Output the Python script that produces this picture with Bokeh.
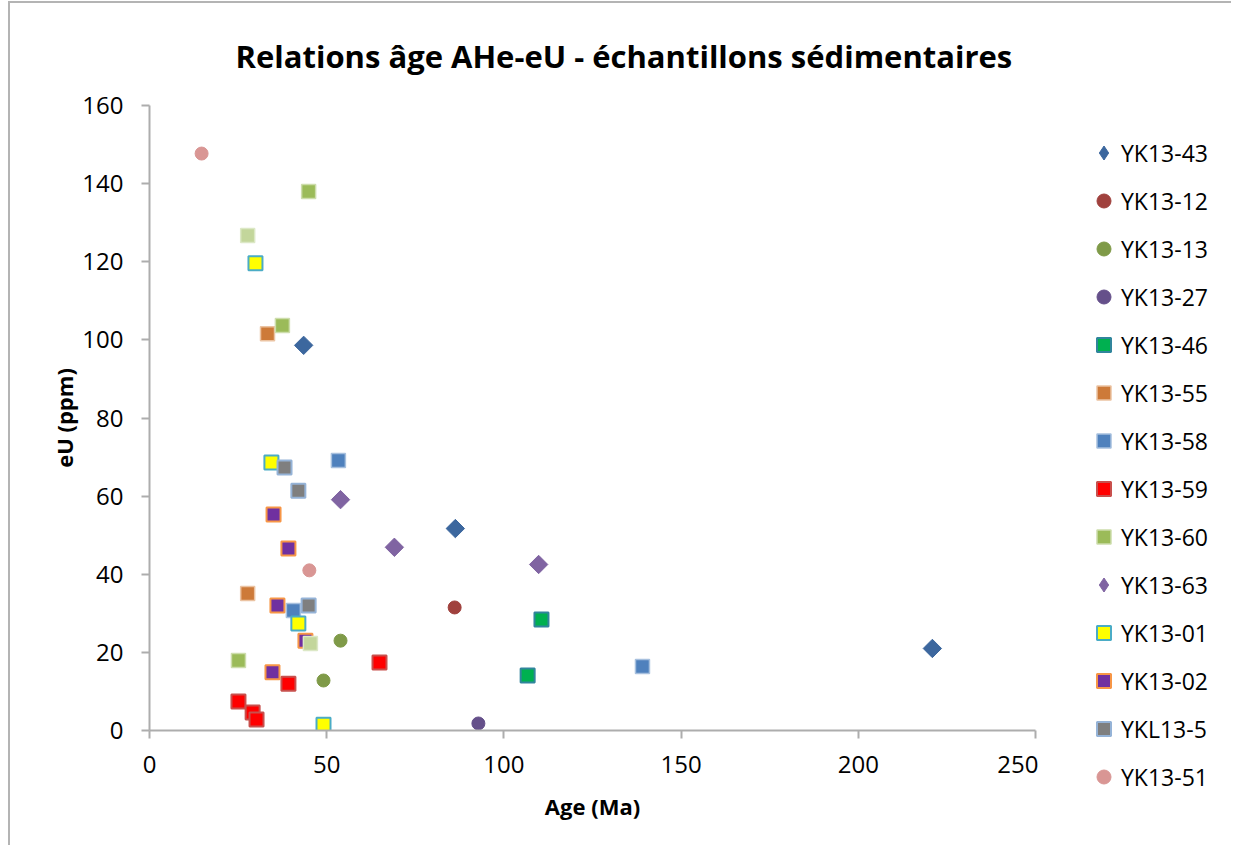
import math
from bokeh.plotting import figure
from bokeh.layouts import row
from bokeh.models import Range1d, FixedTicker, Legend, LegendItem
from bokeh.embed import file_html
from bokeh.resources import INLINE

# ---------------- data (Age Ma, eU ppm) ----------------
series_names = ["YK13-43", "YK13-12", "YK13-13", "YK13-27", "YK13-46", "YK13-55", "YK13-58",
                "YK13-59", "YK13-60", "YK13-63", "YK13-01", "YK13-02", "YKL13-5", "YK13-51"]

yk13_43_age = [43.5, 86.3, 220.9]
yk13_43_eu = [98.6, 51.7, 21.0]
yk13_12_age = [86.1]
yk13_12_eu = [31.5]
yk13_13_age = [53.9, 49.1]
yk13_13_eu = [23.0, 12.8]
yk13_27_age = [92.8]
yk13_27_eu = [1.8]
yk13_46_age = [110.6, 106.7]
yk13_46_eu = [28.4, 14.1]
yk13_55_age = [33.3, 27.7]
yk13_55_eu = [101.6, 35.1]
yk13_58_age = [53.3, 139.1, 40.6]
yk13_58_eu = [69.1, 16.4, 30.7]
yk13_59_age = [64.9, 39.2, 25.1, 29.1, 30.2]
yk13_59_eu = [17.4, 12.0, 7.4, 4.6, 2.8]
yk13_60_age = [44.9, 37.5, 25.1]
yk13_60_eu = [138.0, 103.7, 17.9]
yk13_63_age = [53.9, 69.1, 109.8]
yk13_63_eu = [59.1, 46.9, 42.5]
yk13_01_age = [29.9, 34.4, 42.0, 49.1]
yk13_01_eu = [119.6, 68.6, 27.4, 1.5]
yk13_02_age = [35.0, 39.2, 36.1, 44.0, 34.7]
yk13_02_eu = [55.3, 46.6, 32.0, 23.0, 14.9]
ykl13_5_age = [38.1, 42.0, 44.9]
ykl13_5_eu = [67.3, 61.4, 32.0]
yk13_51_age = [14.7, 45.1]
yk13_51_eu = [147.7, 41.0]
# extra series visible in the plot but without legend entry
unlisted_age = [27.7, 45.4]
unlisted_eu = [126.7, 22.3]

x_ticks = [0, 50, 100, 150, 200, 250]
y_ticks = [0, 20, 40, 60, 80, 100, 120, 140, 160]

FONT = "Open Sans"
H = 844

p = figure(width=1030, height=H, output_backend="svg", toolbar_location=None,
           x_range=Range1d(0, 250), y_range=Range1d(0, 160),
           min_border_left=139, min_border_right=5, min_border_top=102, min_border_bottom=117,
           title="Relations âge AHe-eU - échantillons sédimentaires")
p.styles = {"border-left": "2px solid #b4b4b4", "border-top": "2px solid #b4b4b4"}
p.outline_line_color = None
p.xgrid.visible = False
p.ygrid.visible = False
p.background_fill_color = "white"
p.border_fill_color = "white"

p.title.text_font = FONT
p.title.text_font_size = "31px"
p.title.text_font_style = "bold"
p.title.align = "left"
p.title.offset = 86
p.title.text_color = "#000000"
p.title.standoff = 58

for ax, ticks in ((p.xaxis[0], x_ticks), (p.yaxis[0], y_ticks)):
    ax.ticker = FixedTicker(ticks=ticks)
    ax.axis_line_color = "#ADADAD"
    ax.axis_line_width = 2
    ax.major_tick_line_color = "#ADADAD"
    ax.major_tick_line_width = 2
    ax.major_tick_out = 8
    ax.major_tick_in = 0
    ax.minor_tick_line_color = None
    ax.major_label_text_font = FONT
    ax.major_label_text_font_size = "24px"
    ax.major_label_text_color = "#000000"
    ax.axis_label_text_font = FONT
    ax.axis_label_text_font_size = "22px"
    ax.axis_label_text_font_style = "bold"
    ax.axis_label_text_color = "#000000"

p.xaxis.axis_label = "Age (Ma)"
p.yaxis.axis_label = "eU (ppm)"
p.xaxis.major_label_standoff = 17
p.yaxis.major_label_standoff = 18
p.xaxis.axis_label_standoff = 15
p.yaxis.axis_label_standoff = 0

DIAMOND = dict(marker="square", size=13, angle=math.pi / 4)
CIRCLE = dict(marker="circle", size=13)
SQUARE = dict(marker="square", size=14)

specs = [
    (yk13_43_age, yk13_43_eu, DIAMOND, "#3C679E", "#3C679E", 1),
    (yk13_12_age, yk13_12_eu, CIRCLE, "#A0413D", "#A0413D", 1),
    (yk13_13_age, yk13_13_eu, CIRCLE, "#7F9A48", "#7F9A48", 1),
    (yk13_27_age, yk13_27_eu, CIRCLE, "#65508A", "#65508A", 1),
    (yk13_46_age, yk13_46_eu, SQUARE, "#00B050", "#31859C", 2),
    (yk13_55_age, yk13_55_eu, SQUARE, "#CD7A39", "#EBC3A2", 1.5),
    (yk13_58_age, yk13_58_eu, SQUARE, "#4F81BD", "#A7C0DE", 1.5),
    (yk13_59_age, yk13_59_eu, SQUARE, "#FF0000", "#C8504D", 2),
    (yk13_60_age, yk13_60_eu, SQUARE, "#9BBB59", "#CDDDAC", 1.5),
    (yk13_63_age, yk13_63_eu, DIAMOND, "#8064A2", "#8064A2", 1),
    (yk13_01_age, yk13_01_eu, SQUARE, "#FFFF00", "#4BACC6", 2),
    (yk13_02_age, yk13_02_eu, SQUARE, "#7030A0", "#F79646", 2),
    (ykl13_5_age, ykl13_5_eu, SQUARE, "#7F7F7F", "#95B3D7", 2),
    (yk13_51_age, yk13_51_eu, CIRCLE, "#D99694", "#D99694", 1),
]

# legend panel to the right of the plot area; its own range (0..1) keeps the
# series' points out of view so that only the legend swatches show
pl = figure(width=193, height=H, output_backend="svg", toolbar_location=None,
            x_range=Range1d(0, 1), y_range=Range1d(0, 1),
            x_axis_location=None, y_axis_location=None, min_border=0)
if "frame_align" in pl.properties():
    pl.frame_align = False
pl.styles = {"border-top": "2px solid #b4b4b4"}
pl.outline_line_color = None
pl.grid.visible = False
pl.border_fill_color = "white"
pl.background_fill_color = "white"

items = []
for name, (xs, ys, mk, fc, lc, lw) in zip(series_names, specs):
    p.scatter(xs, ys, fill_color=fc, line_color=lc, line_width=lw, **mk)
    lmk = mk["marker"] if mk is not DIAMOND else "diamond"
    sw = pl.scatter(xs, ys, marker=lmk, size=14, fill_color=fc, line_color=lc, line_width=lw)
    items.append(LegendItem(label=name, renderers=[sw]))

# the unlisted series is drawn last (on top)
p.scatter(unlisted_age, unlisted_eu, fill_color="#C3D69B", line_color="#DCE8C6",
          line_width=1.5, **SQUARE)

# location = bottom-left corner of the legend, relative to the panel's bottom-left
legend = Legend(items=items, location=(48, 53), orientation="vertical",
                glyph_width=35, glyph_height=35, label_height=35, spacing=13,
                label_standoff=0, padding=0, margin=0,
                background_fill_alpha=0, border_line_alpha=0,
                label_text_font=FONT, label_text_font_size="23px",
                label_text_color="#000000")
pl.add_layout(legend, "center")

layout = row(p, pl, spacing=0)
layout.styles = {"margin-left": "8px", "margin-top": "1px"}

open("out.html", "w").write(file_html(layout, INLINE))
